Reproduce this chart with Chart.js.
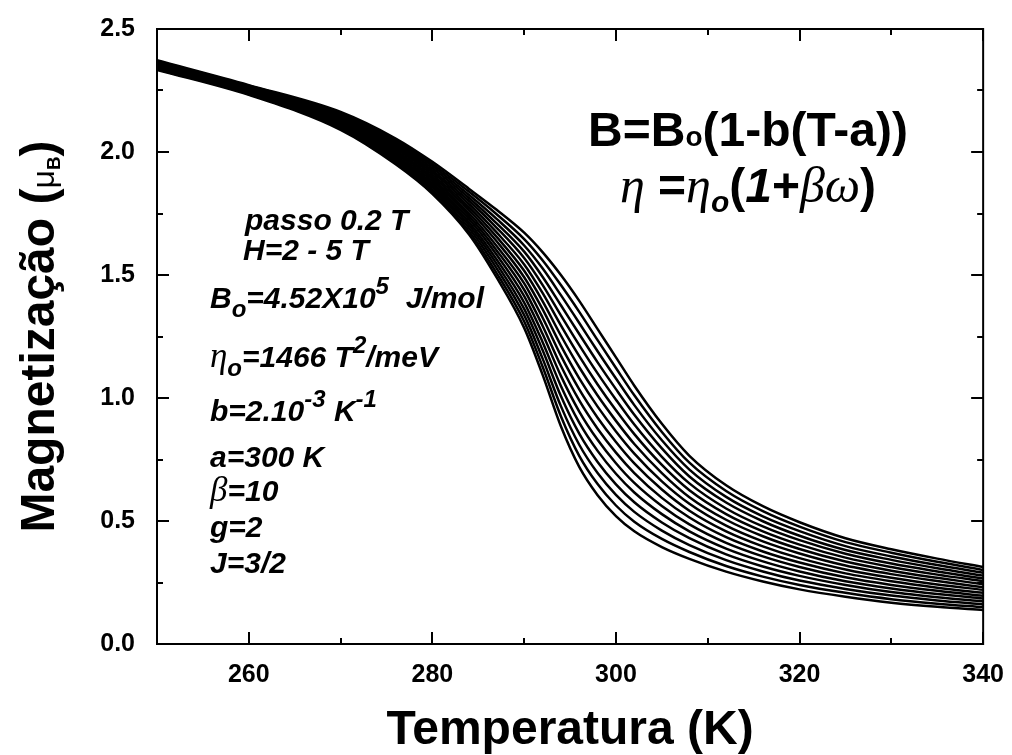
<!DOCTYPE html>
<html>
<head>
<meta charset="utf-8">
<script src="https://cdn.jsdelivr.net/npm/chart.js@4.4.1/dist/chart.umd.min.js"></script>
<style>
  html, body { margin: 0; padding: 0; background: #fff; }
</style>
</head>
<body>
<canvas id="grafico" width="1012" height="755"></canvas>
<script>
// Temperaturas (K) onde cada curva foi amostrada
const temperatura = [250, 260, 270, 276, 280, 284, 287, 290, 292, 294, 296, 298, 300, 302, 305, 308, 312, 316, 320, 325, 330, 335, 340];

// Magnetização (μB) para cada campo H, de 2 T a 5 T em passos de 0.2 T
const m20 = [2.334, 2.232, 2.090, 1.950, 1.830, 1.665, 1.490, 1.285, 1.095, 0.885, 0.720, 0.605, 0.520, 0.458, 0.394, 0.346, 0.294, 0.254, 0.222, 0.192, 0.168, 0.151, 0.138];
const m22 = [2.337, 2.235, 2.095, 1.957, 1.839, 1.677, 1.508, 1.311, 1.128, 0.926, 0.765, 0.650, 0.563, 0.497, 0.427, 0.374, 0.317, 0.274, 0.240, 0.208, 0.182, 0.164, 0.150];
const m24 = [2.339, 2.237, 2.100, 1.964, 1.847, 1.690, 1.527, 1.337, 1.161, 0.967, 0.810, 0.695, 0.606, 0.537, 0.461, 0.402, 0.341, 0.295, 0.258, 0.224, 0.197, 0.177, 0.161];
const m26 = [2.342, 2.240, 2.105, 1.971, 1.856, 1.702, 1.545, 1.362, 1.195, 1.008, 0.855, 0.740, 0.649, 0.576, 0.494, 0.430, 0.364, 0.315, 0.277, 0.240, 0.211, 0.190, 0.173];
const m28 = [2.344, 2.243, 2.110, 1.978, 1.865, 1.714, 1.563, 1.388, 1.228, 1.049, 0.900, 0.785, 0.692, 0.616, 0.528, 0.458, 0.388, 0.336, 0.295, 0.255, 0.226, 0.203, 0.185];
const m30 = [2.347, 2.245, 2.114, 1.985, 1.873, 1.727, 1.582, 1.414, 1.261, 1.090, 0.945, 0.830, 0.735, 0.655, 0.561, 0.486, 0.411, 0.356, 0.313, 0.271, 0.240, 0.216, 0.196];
const m32 = [2.350, 2.248, 2.119, 1.992, 1.882, 1.739, 1.600, 1.440, 1.294, 1.131, 0.990, 0.875, 0.778, 0.695, 0.594, 0.514, 0.434, 0.376, 0.331, 0.287, 0.255, 0.229, 0.208];
const m34 = [2.352, 2.251, 2.124, 1.999, 1.891, 1.751, 1.618, 1.466, 1.327, 1.172, 1.035, 0.920, 0.821, 0.734, 0.628, 0.542, 0.458, 0.397, 0.349, 0.303, 0.269, 0.242, 0.220];
const m36 = [2.355, 2.253, 2.129, 2.006, 1.899, 1.764, 1.637, 1.491, 1.361, 1.213, 1.080, 0.965, 0.864, 0.774, 0.661, 0.570, 0.481, 0.417, 0.368, 0.319, 0.284, 0.256, 0.231];
const m38 = [2.357, 2.256, 2.134, 2.013, 1.908, 1.776, 1.655, 1.517, 1.394, 1.254, 1.125, 1.010, 0.907, 0.813, 0.695, 0.597, 0.505, 0.438, 0.386, 0.335, 0.298, 0.269, 0.243];
const m40 = [2.360, 2.259, 2.139, 2.020, 1.917, 1.788, 1.673, 1.543, 1.427, 1.295, 1.170, 1.055, 0.950, 0.853, 0.728, 0.625, 0.528, 0.458, 0.404, 0.351, 0.313, 0.282, 0.255];
const m42 = [2.363, 2.261, 2.144, 2.027, 1.925, 1.801, 1.692, 1.569, 1.460, 1.336, 1.215, 1.100, 0.993, 0.892, 0.761, 0.653, 0.551, 0.478, 0.422, 0.367, 0.327, 0.295, 0.266];
const m44 = [2.365, 2.264, 2.148, 2.034, 1.934, 1.813, 1.710, 1.595, 1.493, 1.377, 1.260, 1.145, 1.036, 0.932, 0.795, 0.681, 0.575, 0.499, 0.440, 0.382, 0.342, 0.308, 0.278];
const m46 = [2.368, 2.267, 2.153, 2.041, 1.943, 1.825, 1.728, 1.620, 1.527, 1.418, 1.305, 1.190, 1.079, 0.971, 0.828, 0.709, 0.598, 0.519, 0.459, 0.398, 0.356, 0.321, 0.290];
const m48 = [2.370, 2.269, 2.158, 2.048, 1.951, 1.838, 1.747, 1.646, 1.560, 1.459, 1.350, 1.235, 1.122, 1.011, 0.862, 0.737, 0.622, 0.540, 0.477, 0.414, 0.371, 0.334, 0.301];
const m50 = [2.373, 2.272, 2.163, 2.055, 1.960, 1.850, 1.765, 1.672, 1.593, 1.500, 1.395, 1.280, 1.165, 1.050, 0.895, 0.765, 0.645, 0.560, 0.495, 0.430, 0.385, 0.347, 0.313];

const campos = ['2.0', '2.2', '2.4', '2.6', '2.8', '3.0', '3.2', '3.4', '3.6', '3.8', '4.0', '4.2', '4.4', '4.6', '4.8', '5.0'];
const curvas = [m20, m22, m24, m26, m28, m30, m32, m34, m36, m38, m40, m42, m44, m46, m48, m50];

// Marcas dos eixos
const xMaior = [260, 280, 300, 320, 340];
const xMenor = [270, 290, 310, 330];
const yMaior = [0, 0.5, 1.0, 1.5, 2.0, 2.5];
const yMenor = [0.25, 0.75, 1.25, 1.75, 2.25];

const FONTE = '"Liberation Sans", Arial, sans-serif';
const SERIF = '"Liberation Serif", "Times New Roman", serif';

// escreve um texto composto (subscritos, sobrescritos, letras gregas) a partir de x
function escreverPartes(ctx, x, y, partes) {
    let cx = x;
    partes.forEach(p => {
        ctx.font = p.f;
        ctx.fillText(p.t, cx, y + (p.dy || 0));
        cx += ctx.measureText(p.t).width;
    });
    return cx - x;
}

function larguraPartes(ctx, partes) {
    let w = 0;
    partes.forEach(p => { ctx.font = p.f; w += ctx.measureText(p.t).width; });
    return w;
}

// moldura com marcas para dentro nos quatro lados
const molduraEixos = {
    id: 'molduraEixos',
    afterDatasetsDraw(chart) {
        const { ctx, chartArea: a, scales: { x, y } } = chart;
        ctx.save();
        ctx.strokeStyle = '#000';
        ctx.lineWidth = 2;
        ctx.strokeRect(a.left, a.top, a.right - a.left, a.bottom - a.top);
        ctx.beginPath();
        const marcaX = (v, tam) => {
            const px = Math.round(x.getPixelForValue(v));
            ctx.moveTo(px, a.bottom); ctx.lineTo(px, a.bottom - tam);
            ctx.moveTo(px, a.top); ctx.lineTo(px, a.top + tam);
        };
        const marcaY = (v, tam) => {
            const py = Math.round(y.getPixelForValue(v));
            ctx.moveTo(a.left, py); ctx.lineTo(a.left + tam, py);
            ctx.moveTo(a.right, py); ctx.lineTo(a.right - tam, py);
        };
        xMaior.forEach(v => marcaX(v, 12));
        xMenor.forEach(v => marcaX(v, 6));
        yMaior.forEach(v => marcaY(v, 12));
        yMenor.forEach(v => marcaY(v, 6));
        ctx.stroke();
        ctx.restore();
    }
};

// títulos dos eixos e textos com os parâmetros do modelo
const textos = {
    id: 'textos',
    afterDraw(chart) {
        const { ctx, chartArea: a } = chart;
        ctx.save();
        ctx.fillStyle = '#000';
        ctx.textBaseline = 'alphabetic';
        ctx.textAlign = 'left';

        // título do eixo x
        const tituloX = [{ t: 'Temperatura (K)', f: 'bold 48px ' + FONTE }];
        const cx = (a.left + a.right) / 2;
        escreverPartes(ctx, cx - larguraPartes(ctx, tituloX) / 2, 744, tituloX);

        // título do eixo y, girado
        const tituloY = [
            { t: 'Magnetização (', f: 'bold 48px ' + FONTE },
            { t: 'μ', f: '32px ' + FONTE },
            { t: 'B', f: 'bold 19px ' + FONTE, dy: 6 },
            { t: ')', f: 'bold 48px ' + FONTE }
        ];
        ctx.save();
        ctx.translate(54, (a.top + a.bottom) / 2);
        ctx.rotate(-Math.PI / 2);
        escreverPartes(ctx, -larguraPartes(ctx, tituloY) / 2, 0, tituloY);
        ctx.restore();

        // bloco de parâmetros
        const fT = 'italic bold 30px ' + FONTE;
        const fP = 'italic bold 24px ' + FONTE;
        const fG = 'italic 35px ' + SERIF;
        escreverPartes(ctx, 245, 230, [{ t: 'passo 0.2 T', f: fT }]);
        escreverPartes(ctx, 243, 260, [{ t: 'H=2 - 5 T', f: fT }]);
        escreverPartes(ctx, 210, 308, [
            { t: 'B', f: fT }, { t: 'o', f: fP, dy: 9 }, { t: '=4.52X10', f: fT },
            { t: '5', f: fP, dy: -14 }, { t: '  J/mol', f: fT }
        ]);
        escreverPartes(ctx, 210, 367, [
            { t: 'η', f: fG }, { t: 'o', f: fP, dy: 9 }, { t: '=1466 T', f: fT },
            { t: '2', f: fP, dy: -14 }, { t: '/meV', f: fT }
        ]);
        escreverPartes(ctx, 210, 421, [
            { t: 'b=2.10', f: fT }, { t: '-3', f: fP, dy: -14 }, { t: ' K', f: fT },
            { t: '-1', f: fP, dy: -14 }
        ]);
        escreverPartes(ctx, 210, 467, [{ t: 'a=300 K', f: fT }]);
        escreverPartes(ctx, 210, 501, [{ t: 'β', f: fG }, { t: '=10', f: fT }]);
        escreverPartes(ctx, 210, 537, [{ t: 'g=2', f: fT }]);
        escreverPartes(ctx, 210, 573, [{ t: 'J=3/2', f: fT }]);

        // equações do modelo
        const fE = 'bold 48px ' + FONTE;
        const eq1 = [
            { t: 'B=B', f: fE }, { t: 'o', f: 'bold 28px ' + FONTE },
            { t: '(1-b(T-a))', f: fE }
        ];
        escreverPartes(ctx, 748 - larguraPartes(ctx, eq1) / 2, 146, eq1);
        const fEG = 'italic 50px ' + SERIF;
        const eq2 = [
            { t: 'η', f: fEG }, { t: ' =', f: fE }, { t: 'η', f: fEG },
            { t: 'o', f: 'italic bold 30px ' + FONTE, dy: 10 }, { t: '(', f: fE },
            { t: '1', f: 'italic bold 48px ' + FONTE }, { t: '+', f: fE },
            { t: 'βω', f: fEG }, { t: ')', f: fE }
        ];
        escreverPartes(ctx, 748 - larguraPartes(ctx, eq2) / 2, 202, eq2);
        ctx.restore();
    }
};

const datasets = curvas.map((m, i) => ({
    label: 'H = ' + campos[i] + ' T',
    data: temperatura.map((t, j) => ({ x: t, y: m[j] })),
    borderColor: '#000',
    borderWidth: 2.5,
    pointRadius: 0,
    fill: false,
    cubicInterpolationMode: 'monotone'
}));

new Chart(document.getElementById('grafico'), {
    type: 'line',
    data: { datasets },
    options: {
        responsive: false,
        devicePixelRatio: 1,
        animation: false,
        layout: { padding: { left: 0, right: 27, top: 29, bottom: 0 } },
        plugins: {
            legend: { display: false },
            tooltip: { enabled: false }
        },
        scales: {
            x: {
                type: 'linear',
                min: 250,
                max: 340,
                afterBuildTicks: s => { s.ticks = xMaior.map(v => ({ value: v })); },
                afterFit: s => { s.height = 111; },
                grid: { display: false },
                border: { display: false },
                ticks: {
                    color: '#000',
                    padding: 8,
                    autoSkip: false,
                    maxRotation: 0,
                    font: { family: FONTE, size: 25, weight: 'bold' }
                }
            },
            y: {
                type: 'linear',
                min: 0,
                max: 2.5,
                afterBuildTicks: s => { s.ticks = yMaior.map(v => ({ value: v })); },
                afterFit: s => { s.width = 157; },
                grid: { display: false },
                border: { display: false },
                ticks: {
                    color: '#000',
                    padding: 14,
                    font: { family: FONTE, size: 25, weight: 'bold' },
                    callback: v => Number(v).toFixed(1)
                }
            }
        }
    },
    plugins: [molduraEixos, textos]
});
</script>
</body>
</html>
